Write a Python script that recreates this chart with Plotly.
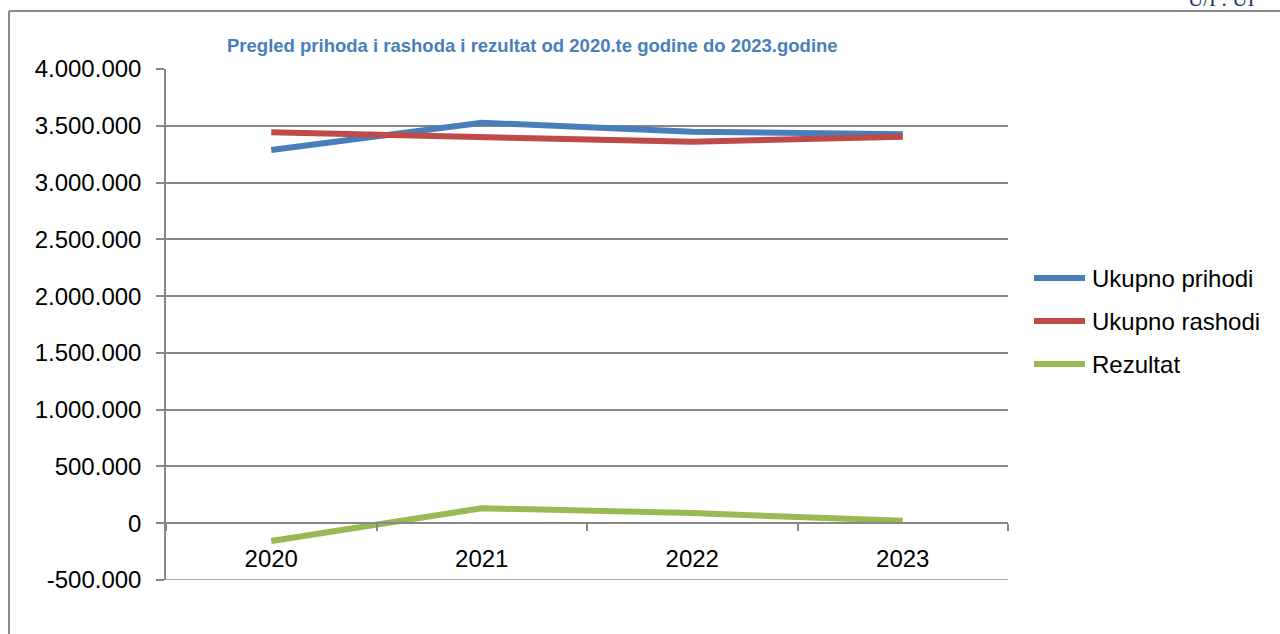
import plotly.graph_objects as go

# ---- data ----
years = ["2020", "2021", "2022", "2023"]
series_names = ["Ukupno prihodi", "Ukupno rashodi", "Rezultat"]
prihodi = [3286000, 3527000, 3448000, 3425000]
rashodi = [3442000, 3395000, 3359000, 3404000]
rezultat = [-156000, 132000, 89000, 21000]
y_tick_vals = [-500000, 0, 500000, 1000000, 1500000, 2000000, 2500000, 3000000, 3500000, 4000000]
y_tick_text = ["-500.000", "0", "500.000", "1.000.000", "1.500.000", "2.000.000",
               "2.500.000", "3.000.000", "3.500.000", "4.000.000"]
title_text = "Pregled prihoda i rashoda i rezultat od 2020.te godine do 2023.godine"
header_text = "U/I : UI"

colors = ["#4A7EBB", "#BE4B48", "#98B954"]
values = [prihodi, rashodi, rezultat]

W, H = 1280, 634
L, R, T, B = 166, 1008, 69, 580  # plot area in pixels


def px_x(p):
    return (p - L) / (R - L)


def px_y(p):
    return (B - p) / (B - T)


fig = go.Figure()
for name, vals, col in zip(series_names, values, colors):
    fig.add_trace(go.Scatter(x=years, y=vals, mode="lines", name=name,
                             line=dict(color=col, width=6), showlegend=False))

font_main = "Liberation Sans, Arial, sans-serif"
grid = "#878787"

fig.update_layout(
    width=W, height=H,
    margin=dict(l=L, r=W - R, t=T, b=H - B, pad=0),
    paper_bgcolor="white", plot_bgcolor="white",
    font=dict(family=font_main, size=24, color="black"),
    xaxis=dict(
        type="category", range=[-0.5, 3.5], anchor="free",
        position=0.5 / 4.5, showline=True, linecolor=grid, linewidth=1.5,
        showgrid=False, ticks="outside", ticklen=7, tickcolor=grid, tickwidth=1.5,
        tickson="boundaries", tickfont=dict(size=24, color="black"),
        ticklabelstandoff=14,
    ),
    yaxis=dict(
        range=[-500000, 4000000], tickvals=y_tick_vals, ticktext=y_tick_text,
        showgrid=True, gridcolor=grid, gridwidth=1.5, zeroline=False,
        showline=True, linecolor=grid, linewidth=1.5,
        ticks="outside", ticklen=8, tickcolor=grid, tickwidth=1.5,
        tickfont=dict(size=24, color="black"), ticklabelstandoff=10,
    ),
)

# bottom gridline (plotly skips the grid line at the range edge)
fig.add_shape(type="line", xref="paper", yref="y", x0=0, x1=1,
              y0=y_tick_vals[0], y1=y_tick_vals[0], line=dict(color=grid, width=1.5),
              layer="below")

# title
fig.add_annotation(text="<b>" + title_text + "</b>", x=px_x(532.5), y=px_y(45),
                   xref="paper", yref="paper", xanchor="center", yanchor="middle",
                   showarrow=False,
                   font=dict(family="Liberation Sans, Arial, sans-serif",
                             size=18.5, color="#4A7EBB"))

# legend (drawn manually to match the long line samples)
leg_y = [278, 321, 364]
for name, col, yy in zip(series_names, colors, leg_y):
    fig.add_shape(type="line", xref="paper", yref="paper",
                  x0=px_x(1034), x1=px_x(1085), y0=px_y(yy), y1=px_y(yy),
                  line=dict(color=col, width=6))
    fig.add_annotation(text=name, x=px_x(1090), y=px_y(yy), xref="paper", yref="paper",
                       xanchor="left", yanchor="middle", showarrow=False,
                       font=dict(size=24, color="black"))

# document frame
fig.add_shape(type="line", xref="paper", yref="paper",
              x0=px_x(9), x1=px_x(1282), y0=px_y(11), y1=px_y(11),
              line=dict(color="#8c8c8c", width=2))
fig.add_shape(type="line", xref="paper", yref="paper",
              x0=px_x(9), x1=px_x(9), y0=px_y(11), y1=px_y(640),
              line=dict(color="#8c8c8c", width=2))
fig.add_annotation(text=header_text, x=px_x(1186), y=px_y(13), xref="paper", yref="paper",
                   xanchor="left", yanchor="bottom", showarrow=False,
                   font=dict(family="Liberation Serif, Times New Roman, serif", size=21,
                             color="#1F3864"))

fig.write_html("out.html", config={"displayModeBar": False},
               post_script="document.body.style.margin='0';document.body.style.overflow='hidden';")
